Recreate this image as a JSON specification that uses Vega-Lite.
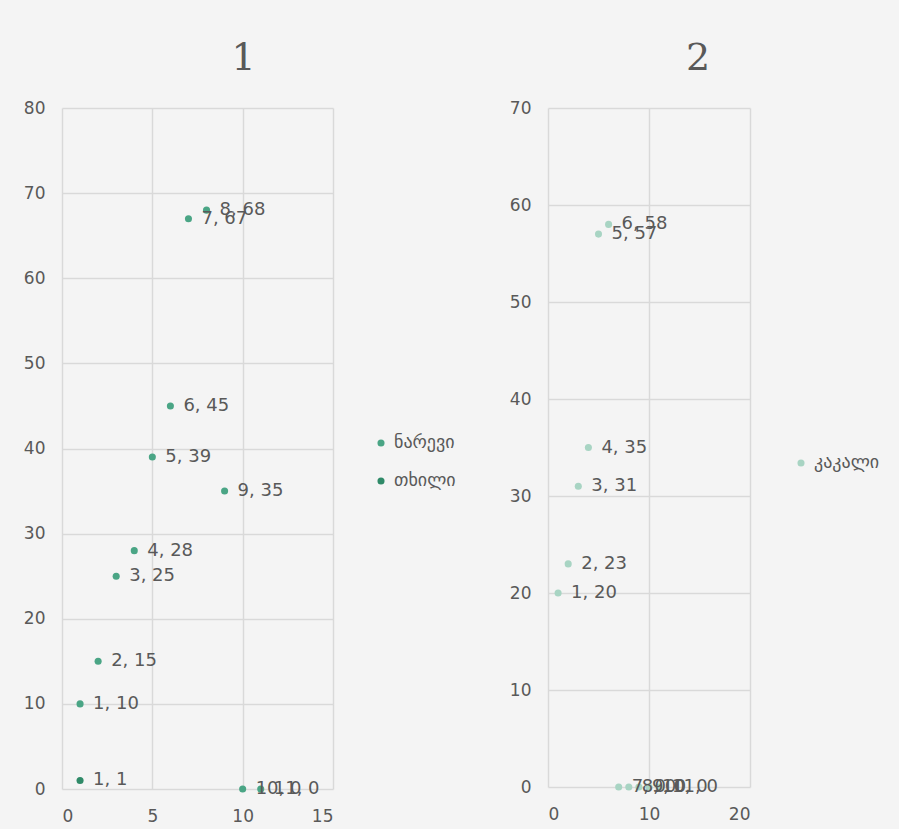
{
  "$schema": "https://vega.github.io/schema/vega-lite/v6.json",
  "background": "#f4f4f4",
  "padding": {"left": 23, "top": 40, "right": 19, "bottom": 5},
  "spacing": 53,
  "resolve": {"scale": {"color": "independent", "x": "independent", "y": "independent"}, "legend": {"color": "independent"}},
  "config": {
    "font": "DejaVu Sans",
    "view": {"stroke": null},
    "axis": {
      "domain": false,
      "ticks": false,
      "grid": true,
      "gridColor": "#d9d9d9",
      "gridWidth": 1.5,
      "labelFont": "DejaVu Sans",
      "labelFontSize": 17,
      "labelColor": "#595959",
      "title": null
    },
    "axisX": {"labelPadding": 19},
    "axisY": {"labelPadding": 17},
    "title": {"font": "DejaVu Serif", "fontSize": 38, "fontWeight": "normal", "color": "#595959", "anchor": "middle"},
    "legend": {
      "labelFont": "DejaVu Sans",
      "labelFontSize": 18,
      "labelColor": "#595959",
      "symbolType": "circle",
      "symbolSize": 50,
      "symbolStrokeWidth": 0,
      "rowPadding": 20,
      "title": null
    }
  },
  "hconcat": [
    {
      "title": {"text": "1", "dx": 46, "offset": 21},
      "width": 271,
      "height": 681,
      "data": {
        "values": [
          {"series": "ნარევი", "x": 1, "y": 10, "label": "1, 10"},
          {"series": "ნარევი", "x": 2, "y": 15, "label": "2, 15"},
          {"series": "ნარევი", "x": 3, "y": 25, "label": "3, 25"},
          {"series": "ნარევი", "x": 4, "y": 28, "label": "4, 28"},
          {"series": "ნარევი", "x": 5, "y": 39, "label": "5, 39"},
          {"series": "ნარევი", "x": 6, "y": 45, "label": "6, 45"},
          {"series": "ნარევი", "x": 7, "y": 67, "label": "7, 67"},
          {"series": "ნარევი", "x": 8, "y": 68, "label": "8, 68"},
          {"series": "ნარევი", "x": 9, "y": 35, "label": "9, 35"},
          {"series": "ნარევი", "x": 10, "y": 0, "label": "10, 0"},
          {"series": "ნარევი", "x": 11, "y": 0, "label": "11, 0"},
          {"series": "თხილი", "x": 1, "y": 1, "label": "1, 1"}
        ]
      },
      "encoding": {
        "x": {"field": "x", "type": "quantitative", "scale": {"domain": [0, 15], "nice": false}, "axis": {"values": [0, 5, 10, 15]}},
        "y": {"field": "y", "type": "quantitative", "scale": {"domain": [0, 80], "nice": false}, "axis": {"values": [0, 10, 20, 30, 40, 50, 60, 70, 80]}}
      },
      "layer": [
        {
          "mark": {"type": "circle", "size": 50, "opacity": 1},
          "encoding": {
            "color": {
              "field": "series",
              "type": "nominal",
              "scale": {"domain": ["ნარევი", "თხილი"], "range": ["#4aa585", "#2f8a68"]},
              "legend": {"orient": "none", "legendX": 310, "legendY": 326}
            }
          }
        },
        {
          "mark": {"type": "text", "align": "left", "baseline": "middle", "dx": 13, "fontSize": 18, "color": "#595959"},
          "encoding": {"text": {"field": "label", "type": "nominal"}}
        }
      ]
    },
    {
      "title": {"text": "2", "dx": 49, "offset": 21},
      "width": 202,
      "height": 679,
      "data": {
        "values": [
          {"series": "კაკალი", "x": 1, "y": 20, "label": "1, 20"},
          {"series": "კაკალი", "x": 2, "y": 23, "label": "2, 23"},
          {"series": "კაკალი", "x": 3, "y": 31, "label": "3, 31"},
          {"series": "კაკალი", "x": 4, "y": 35, "label": "4, 35"},
          {"series": "კაკალი", "x": 5, "y": 57, "label": "5, 57"},
          {"series": "კაკალი", "x": 6, "y": 58, "label": "6, 58"},
          {"series": "კაკალი", "x": 7, "y": 0, "label": "7, 0"},
          {"series": "კაკალი", "x": 8, "y": 0, "label": "8, 0"},
          {"series": "კაკალი", "x": 9, "y": 0, "label": "9, 0"},
          {"series": "კაკალი", "x": 10, "y": 0, "label": "10, 0"},
          {"series": "კაკალი", "x": 11, "y": 0, "label": "11, 0"}
        ]
      },
      "encoding": {
        "x": {"field": "x", "type": "quantitative", "scale": {"domain": [0, 20], "nice": false}, "axis": {"values": [0, 10, 20]}},
        "y": {"field": "y", "type": "quantitative", "scale": {"domain": [0, 70], "nice": false}, "axis": {"values": [0, 10, 20, 30, 40, 50, 60, 70]}}
      },
      "layer": [
        {
          "mark": {"type": "circle", "size": 50, "opacity": 1},
          "encoding": {
            "color": {
              "field": "series",
              "type": "nominal",
              "scale": {"domain": ["კაკალი"], "range": ["#a8d4c3"]},
              "legend": {"orient": "none", "legendX": 244, "legendY": 346}
            }
          }
        },
        {
          "mark": {"type": "text", "align": "left", "baseline": "middle", "dx": 13, "fontSize": 18, "color": "#595959"},
          "encoding": {"text": {"field": "label", "type": "nominal"}}
        }
      ]
    }
  ]
}
